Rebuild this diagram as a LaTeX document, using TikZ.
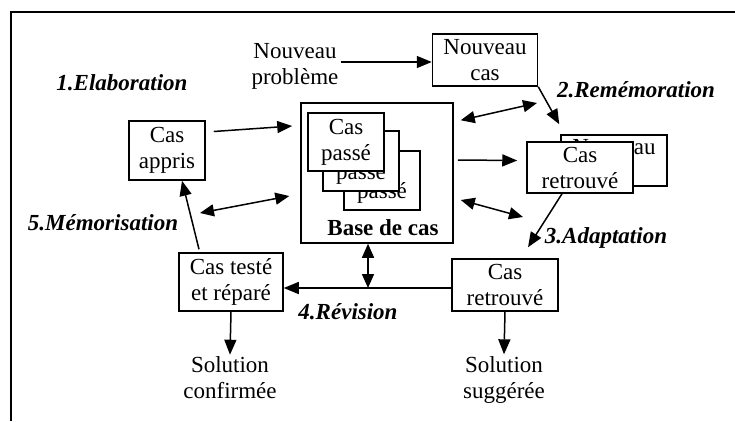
\documentclass[tikz,border=0pt]{standalone}
\usepackage{fontspec}
\setmainfont{Liberation Serif}
\usetikzlibrary{arrows.meta}

\begin{document}
\begin{tikzpicture}[x=1pt, y=-1pt,
    every node/.style={font=\fontsize{23}{26}\selectfont, align=center, inner sep=2pt},
    boite/.style={draw, line width=1.5pt, fill=white, inner sep=0pt},
    etape/.style={font=\fontsize{23}{26}\selectfont\bfseries\itshape},
    fl/.style={line width=1.5pt, -{Triangle[length=15pt,width=12pt]}},
    dbl/.style={line width=1.5pt, {Triangle[length=14pt,width=12pt]}-{Triangle[length=14pt,width=12pt]}}]
  \useasboundingbox (0,0) rectangle (735,421);
  \draw[line width=2pt] (11,421) -- (11,12) -- (735,12);

  \node[etape] (elab) at (122,83) {1.Elaboration};
  \node[etape] (remem) at (636,90) {2.Remémoration};
  \node[etape] (adapt) at (606,238) {3.Adaptation};
  \node[etape] (revis) at (348,312) {4.Révision};
  \node[etape] (memor) at (103,223) {5.Mémorisation};

  \node (nouvprob) at (295,66) {Nouveau\\problème};
  \node[boite, minimum width=105, minimum height=52] (nouvcas) at (485,60) {Nouveau\\cas};

  \node[boite, minimum width=152, minimum height=140] (base) at (377,173) {};
  \node[boite, minimum width=76, minimum height=59] (cp3) at (382,180.5) {Cas\\passé};
  \node[boite, minimum width=76, minimum height=60] (cp2) at (361,161) {Cas\\passé};
  \node[boite, minimum width=76, minimum height=58] (cp1) at (346,142) {Cas\\passé};
  \node[font=\fontsize{23}{26}\selectfont\bfseries] (basetxt) at (383,228) {Base de cas};

  \node[boite, minimum width=106, minimum height=51] (nouvcas2) at (614,160.5) {Nouveau\\cas};
  \node[boite, minimum width=106, minimum height=51] (casret) at (580,167.5) {Cas\\retrouvé};

  \node[boite, minimum width=76, minimum height=59] (casappris) at (167,150.5) {Cas\\appris};
  \node[boite, minimum width=104, minimum height=58] (castest) at (231,282) {Cas testé\\et réparé};
  \node[boite, minimum width=106, minimum height=52] (casret3) at (505,285) {Cas\\retrouvé};

  \node (solconf) at (230,378) {Solution\\confirmée};
  \node (solsug) at (504,380) {Solution\\suggérée};

  \coordinate (g1) at (200,213);
  \coordinate (r1) at (537,103);
  \coordinate (r2) at (523,217);
  \coordinate (jn) at (368,288);

  \draw[fl] (nouvprob.east |- 0,62) -- (nouvcas.west |- 0,62);
  \draw[fl] ([shift={(8,-19)}]casappris.east) -- ([shift={(-8,-47)}]base.west);
  \draw[dbl] (g1) -- ([shift={(-11,23)}]base.west);
  \draw[fl] ([shift={(-32,-3)}]castest.north) -- ([xshift=15pt]casappris.south);
  \draw[dbl] ([shift={(7,18)}]base.north east) -- (r1);
  \draw[fl] (nouvcas.south east) -- ([shift={(-1,-10)}]nouvcas2.north west);
  \draw[fl] ([shift={(4,-13)}]base.east) -- ([shift={(-9,-7)}]casret.west);
  \draw[dbl] ([shift={(7,27)}]base.east) -- (r2);
  \draw[fl] ([xshift=-18pt]casret.south) -- ([shift={(23,-11)}]casret3.north);
  \draw[dbl] ([xshift=-9pt]base.south) -- (jn);
  \draw[fl] (casret3.west |- jn) -- (castest.east |- jn);
  \draw[fl] (castest.south) -- (solconf.north);
  \draw[fl] (casret3.south) -- (solsug.north);
\end{tikzpicture}
\end{document}
